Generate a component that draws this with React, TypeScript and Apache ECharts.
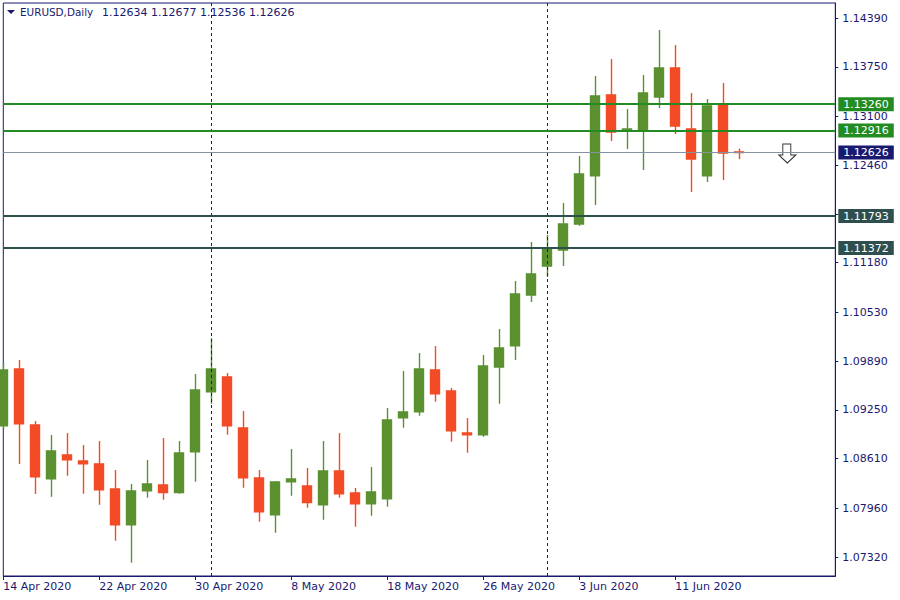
import React, { useEffect, useRef } from 'react';
import * as echarts from 'echarts';

const dates = [
  '14 Apr 2020', '15 Apr 2020', '16 Apr 2020', '17 Apr 2020', '20 Apr 2020', '21 Apr 2020',
  '22 Apr 2020', '23 Apr 2020', '24 Apr 2020', '27 Apr 2020', '28 Apr 2020', '29 Apr 2020',
  '30 Apr 2020', '1 May 2020', '4 May 2020', '5 May 2020', '6 May 2020', '7 May 2020',
  '8 May 2020', '11 May 2020', '12 May 2020', '13 May 2020', '14 May 2020', '15 May 2020',
  '18 May 2020', '19 May 2020', '20 May 2020', '21 May 2020', '22 May 2020', '25 May 2020',
  '26 May 2020', '27 May 2020', '28 May 2020', '29 May 2020', '1 Jun 2020', '2 Jun 2020',
  '3 Jun 2020', '4 Jun 2020', '5 Jun 2020', '8 Jun 2020', '9 Jun 2020', '10 Jun 2020',
  '11 Jun 2020', '12 Jun 2020', '15 Jun 2020', '16 Jun 2020', '17 Jun 2020',
];
// empty slots to the right of the last bar (chart shift)
const futureDates = ['18 Jun 2020', '19 Jun 2020', '22 Jun 2020', '23 Jun 2020', '24 Jun 2020', '25 Jun 2020'];

const open = [1.09042, 1.09786, 1.09052, 1.08347, 1.08658, 1.08579, 1.0854, 1.08212, 1.07744, 1.0819, 1.08265, 1.08164, 1.08701, 1.09488, 1.09681, 1.09012, 1.08356, 1.07875, 1.08308, 1.08251, 1.08006, 1.08448, 1.0816, 1.08019, 1.08085, 1.09147, 1.09226, 1.09773, 1.09498, 1.08947, 1.08924, 1.09812, 1.10092, 1.10757, 1.11137, 1.11347, 1.11688, 1.12322, 1.1338, 1.1293, 1.12917, 1.13354, 1.13734, 1.12934, 1.12322, 1.13249, 1.12634];
const close = [1.09773, 1.09069, 1.08373, 1.08711, 1.08596, 1.08544, 1.08203, 1.07744, 1.08186, 1.08278, 1.08164, 1.08684, 1.09511, 1.09786, 1.09042, 1.0836, 1.07914, 1.08304, 1.08343, 1.08033, 1.08448, 1.0815, 1.08019, 1.08173, 1.09117, 1.09222, 1.09786, 1.09462, 1.08977, 1.08924, 1.09825, 1.10062, 1.1077, 1.11032, 1.1136, 1.11688, 1.12344, 1.13367, 1.12895, 1.12934, 1.13406, 1.13734, 1.12973, 1.12541, 1.13236, 1.12619, 1.12626];
const high = [1.09869, 1.09904, 1.09104, 1.0892, 1.08947, 1.08789, 1.08842, 1.08461, 1.08278, 1.08593, 1.08881, 1.08842, 1.09721, 1.10189, 1.09734, 1.09235, 1.08461, 1.08317, 1.08737, 1.08488, 1.08842, 1.08947, 1.08225, 1.08501, 1.09275, 1.0976, 1.09996, 1.10088, 1.09537, 1.09143, 1.0997, 1.10311, 1.1094, 1.11452, 1.11544, 1.11963, 1.1258, 1.13629, 1.13852, 1.13196, 1.13642, 1.14233, 1.14036, 1.13406, 1.13328, 1.13537, 1.12677];
const low = [1.08999, 1.0854, 1.08147, 1.08111, 1.08387, 1.0815, 1.08006, 1.07534, 1.07246, 1.08098, 1.08072, 1.0815, 1.08308, 1.09331, 1.08924, 1.08229, 1.07783, 1.07639, 1.08124, 1.07967, 1.0781, 1.08098, 1.07718, 1.07862, 1.0798, 1.09016, 1.09174, 1.09357, 1.08833, 1.08688, 1.08898, 1.09331, 1.09904, 1.10665, 1.10993, 1.11137, 1.11666, 1.11937, 1.12777, 1.12672, 1.12396, 1.1321, 1.12868, 1.12108, 1.12239, 1.12265, 1.12536];

const priceTicks = [1.1439, 1.1375, 1.131, 1.1246, 1.1182, 1.1118, 1.1053, 1.0989, 1.0925, 1.0861, 1.0796, 1.0732];
// 1.11820 is hidden behind the 1.11793 level box in the reference
const priceLabels = [1.1439, 1.1375, 1.131, 1.1246, 1.1118, 1.1053, 1.0989, 1.0925, 1.0861, 1.0796, 1.0732];
const resistanceLevels = [1.1326, 1.12916];
const supportLevels = [1.11793, 1.11372];
const bidPrice = 1.12626;
const separatorDates = ['1 May 2020', '1 Jun 2020'];
const signalDate = '22 Jun 2020';
const header = { symbol: 'EURUSD,Daily', ohlc: '1.12634 1.12677 1.12536 1.12626' };

const NAVY = '#191970';
const FONT = 'DejaVu Sans';

export default function App() {
  const ref = useRef<HTMLDivElement>(null);
  useEffect(() => {
    if (!ref.current) return;
    const chart = echarts.init(ref.current, undefined, { renderer: 'svg' });
    const categories = [...dates, ...futureDates];
    const candles = dates.map((_, i) => [open[i], close[i], low[i], high[i]]);
    const levelLabel = (bg: string) => ({
      show: true,
      position: 'end',
      distance: 3,
      formatter: (p: any) => Number(p.value).toFixed(5),
      color: '#ffffff',
      backgroundColor: bg,
      padding: [1, 5, 0, 5],
      lineHeight: 13,
      fontFamily: FONT,
      fontSize: 11,
    });
    const option: any = {
      animation: false,
      backgroundColor: '#ffffff',
      grid: {
        left: 3.3,
        right: 64.7,
        top: 3,
        bottom: 24,
        show: true,
        borderColor: NAVY,
        borderWidth: 1,
        backgroundColor: 'transparent',
      },
      xAxis: {
        type: 'category',
        data: categories,
        boundaryGap: false,
        axisLine: { lineStyle: { color: NAVY, width: 1 } },
        axisTick: {
          show: true,
          length: 4,
          interval: (i: number) => i % 6 === 0 && i < dates.length,
          lineStyle: { color: NAVY },
        },
        axisLabel: {
          interval: (i: number) => i % 6 === 0 && i < dates.length,
          align: 'left',
          color: NAVY,
          fontFamily: FONT,
          fontSize: 11,
          margin: 5,
        },
        splitLine: { show: false },
      },
      yAxis: {
        type: 'value',
        position: 'right',
        min: 1.07071,
        max: 1.14587,
        scale: true,
        axisLine: { show: true, lineStyle: { color: NAVY, width: 1 } },
        axisTick: { show: true, length: 3, customValues: priceTicks, lineStyle: { color: NAVY } },
        axisLabel: {
          customValues: priceLabels,
          formatter: (v: number) => v.toFixed(5),
          color: NAVY,
          fontFamily: FONT,
          fontSize: 11,
          margin: 7,
        },
        splitLine: { show: false },
      },
      series: [
        {
          type: 'line',
          data: [],
          z: 1,
          silent: true,
          markLine: {
            silent: true,
            precision: 5,
            symbol: ['none', 'none'],
            data: [
              ...separatorDates.map((d) => ({
                xAxis: d,
                label: { show: false },
                lineStyle: { color: NAVY, type: [3, 3], width: 1 },
              })),
              {
                yAxis: bidPrice,
                lineStyle: { color: '#8391a0', width: 1, type: 'solid' },
                label: levelLabel(NAVY),
              },
            ],
          },
        },
        {
          type: 'candlestick',
          data: candles,
          z: 2,
          barWidth: 9.6,
          clip: true,
          itemStyle: {
            color: '#5b9130',
            color0: '#f24b26',
            borderColor: '#5b9130',
            borderColor0: '#f24b26',
            borderWidth: 1.4,
          },
          markLine: {
            silent: true,
            precision: 5,
            symbol: ['none', 'none'],
            data: [
              ...resistanceLevels.map((v) => ({
                yAxis: v,
                lineStyle: { color: '#228b22', width: 2, type: 'solid' },
                label: levelLabel('#228b22'),
              })),
              ...supportLevels.map((v) => ({
                yAxis: v,
                lineStyle: { color: '#2f4f4f', width: 2, type: 'solid' },
                label: levelLabel('#2f4f4f'),
              })),
            ],
          },
        },
        {
          type: 'scatter',
          z: 4,
          silent: true,
          data: [[signalDate, bidPrice]],
          symbol: 'path://M4,0 L12,0 L12,11 L17,11 L8.5,19 L0,11 L4,11 Z',
          symbolSize: [17, 19],
          symbolOffset: [0, 1],
          itemStyle: { color: '#ffffff', borderColor: '#000000', borderWidth: 1 },
        },
      ],
      graphic: [
        {
          type: 'polygon',
          shape: { points: [[7, 10], [15, 10], [11, 14]] },
          style: { fill: NAVY },
          z: 10,
        },
        {
          type: 'text',
          x: 20,
          y: 12,
          style: {
            text: header.symbol,
            fill: NAVY,
            font: `10.4px "${FONT}"`,
            textVerticalAlign: 'middle',
            verticalAlign: 'middle',
          },
          z: 10,
        },
        {
          type: 'text',
          x: 102,
          y: 12,
          style: {
            text: header.ohlc,
            fill: NAVY,
            font: `11px "${FONT}"`,
            textVerticalAlign: 'middle',
            verticalAlign: 'middle',
          },
          z: 10,
        },
      ],
    };
    chart.setOption(option);
    return () => chart.dispose();
  }, []);
  return (
    <div
      ref={ref}
      style={{ position: 'fixed', left: 0, top: 0, width: 900, height: 600, background: '#fff' }}
    />
  );
}
